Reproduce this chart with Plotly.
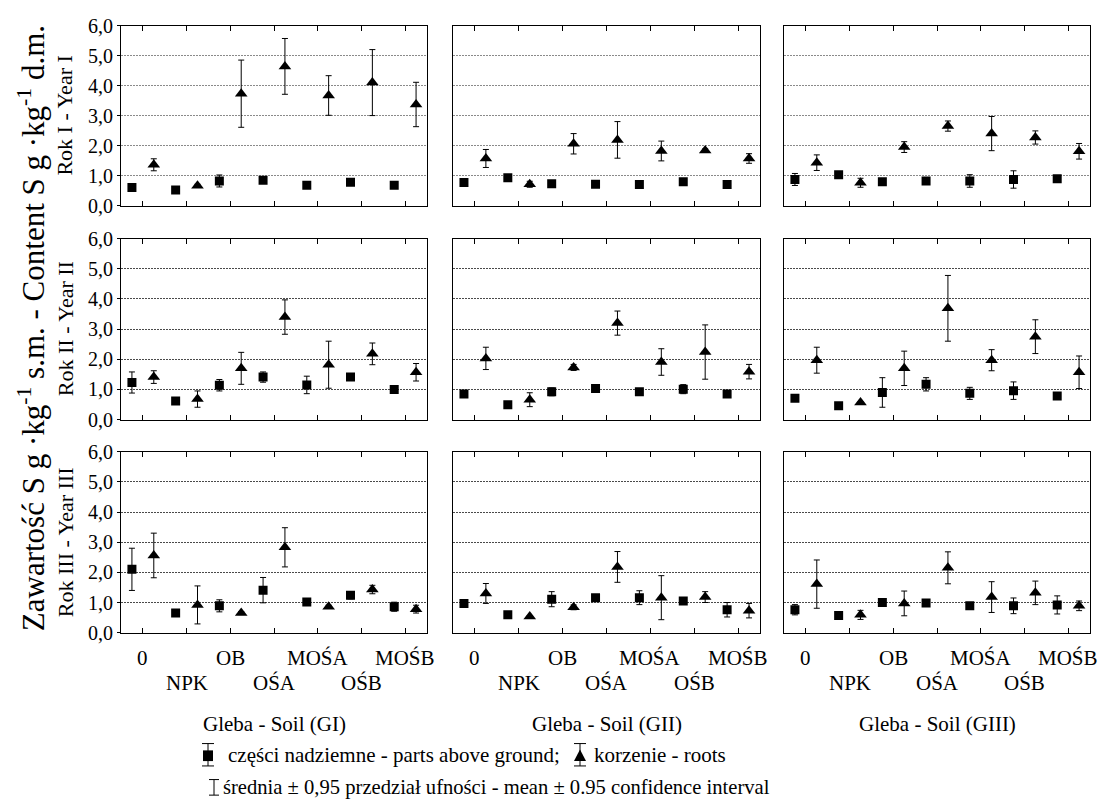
import plotly.graph_objects as go

W, H = 1103, 811

categories = ["0", "NPK", "OB", "OŚA", "MOŚA", "OŚB", "MOŚB"]
y_ticks = [0, 1, 2, 3, 4, 5, 6]
y_tick_text = ["0,0", "1,0", "2,0", "3,0", "4,0", "5,0", "6,0"]
soils = ["Gleba - Soil (GI)", "Gleba - Soil (GII)", "Gleba - Soil (GIII)"]
years = ["Rok I - Year I", "Rok II - Year II", "Rok III - Year III"]

# Year I  (each list: [GI, GII, GIII])
above_y1 = [[0.60, 0.52, 0.82, 0.84, 0.68, 0.78, 0.68],
            [0.77, 0.93, 0.73, 0.71, 0.70, 0.79, 0.70],
            [0.87, 1.03, 0.79, 0.82, 0.82, 0.87, 0.89]]
above_y1_ci = [[0.03, 0.03, 0.20, 0.03, 0.03, 0.03, 0.03],
               [0.03, 0.03, 0.03, 0.03, 0.03, 0.03, 0.03],
               [0.20, 0.03, 0.03, 0.03, 0.21, 0.29, 0.03]]
roots_y1 = [[1.36, 0.66, 3.73, 4.64, 3.67, 4.10, 3.37],
            [1.57, 0.71, 2.06, 2.19, 1.82, 1.84, 1.57],
            [1.43, 0.76, 1.95, 2.65, 2.40, 2.27, 1.81]]
roots_y1_ci = [[0.20, 0.05, 1.12, 0.93, 0.66, 1.10, 0.74],
               [0.30, 0.10, 0.34, 0.61, 0.33, 0.05, 0.16],
               [0.26, 0.15, 0.18, 0.17, 0.57, 0.22, 0.26]]

# Year II
above_y2 = [[1.23, 0.62, 1.14, 1.41, 1.15, 1.41, 1.00],
            [0.85, 0.49, 0.92, 1.03, 0.92, 1.01, 0.85],
            [0.71, 0.46, 0.90, 1.17, 0.87, 0.96, 0.78]]
above_y2_ci = [[0.35, 0.03, 0.19, 0.17, 0.29, 0.03, 0.03],
               [0.03, 0.03, 0.13, 0.03, 0.03, 0.15, 0.03],
               [0.03, 0.08, 0.49, 0.22, 0.20, 0.29, 0.03]]
roots_y2 = [[1.41, 0.68, 1.70, 3.40, 1.82, 2.18, 1.57],
            [2.03, 0.66, 1.73, 3.20, 1.91, 2.24, 1.59],
            [1.97, 0.57, 1.70, 3.69, 1.97, 2.75, 1.57]]
roots_y2_ci = [[0.21, 0.27, 0.53, 0.57, 0.78, 0.36, 0.29],
               [0.37, 0.23, 0.10, 0.40, 0.44, 0.90, 0.24],
               [0.43, 0.03, 0.57, 1.09, 0.35, 0.56, 0.54]]

# Year III
above_y3 = [[2.10, 0.65, 0.89, 1.41, 1.02, 1.24, 0.86],
            [0.97, 0.59, 1.11, 1.16, 1.16, 1.05, 0.76],
            [0.76, 0.57, 1.00, 0.98, 0.89, 0.89, 0.92]]
above_y3_ci = [[0.70, 0.03, 0.20, 0.42, 0.05, 0.12, 0.15],
               [0.08, 0.03, 0.25, 0.03, 0.23, 0.06, 0.24],
               [0.17, 0.03, 0.07, 0.07, 0.03, 0.26, 0.30]]
roots_y3 = [[2.56, 0.92, 0.65, 2.83, 0.86, 1.43, 0.78],
            [1.30, 0.54, 0.84, 2.18, 1.16, 1.18, 0.73],
            [1.61, 0.59, 0.97, 2.15, 1.18, 1.32, 0.89]]
roots_y3_ci = [[0.74, 0.63, 0.05, 0.65, 0.05, 0.14, 0.13],
               [0.33, 0.03, 0.08, 0.51, 0.73, 0.18, 0.24],
               [0.80, 0.15, 0.41, 0.53, 0.51, 0.39, 0.16]]

above = [above_y1, above_y2, above_y3]
above_ci = [above_y1_ci, above_y2_ci, above_y3_ci]
roots = [roots_y1, roots_y2, roots_y3]
roots_ci = [roots_y1_ci, roots_y2_ci, roots_y3_ci]

FONT = "Liberation Serif, Times New Roman, serif"

col_px = [(121, 427), (453, 760), (784, 1090)]
row_px = [(15, 200), (234, 420), (453, 639)]
grid_col = ["#8a8a8a", "#4a4a4a", "#4a4a4a"]

def px(x):
    return x / W

def py(y):
    return 1 - y / H

fig = go.Figure()
layout = dict(
    width=W, height=H, margin=dict(l=0, r=0, t=0, b=0),
    paper_bgcolor="white", plot_bgcolor="white", showlegend=False,
    font=dict(family=FONT, size=20, color="black"),
)

ann = []
idx = 0
xpos = list(range(len(categories)))
for r in range(3):
    for c in range(3):
        idx += 1
        sx = "" if idx == 1 else str(idx)
        xa, ya = "x" + sx, "y" + sx
        fig.add_trace(go.Scatter(
            x=[p - 0.25 for p in xpos], y=above[r][c], xaxis=xa, yaxis=ya,
            mode="markers",
            marker=dict(symbol="square", size=9, color="black"),
            error_y=dict(type="data", array=above_ci[r][c], color="black",
                         thickness=1, width=3),
        ))
        fig.add_trace(go.Scatter(
            x=[p + 0.25 for p in xpos], y=roots[r][c], xaxis=xa, yaxis=ya,
            mode="markers",
            marker=dict(symbol="triangle-up", size=11, color="black"),
            error_y=dict(type="data", array=roots_ci[r][c], color="black",
                         thickness=1, width=3),
        ))
        layout["xaxis" + sx] = dict(
            domain=[px(col_px[c][0]), px(col_px[c][1])],
            anchor=ya, range=[-0.5, 6.5],
            tickvals=xpos, showticklabels=False, ticks="inside", ticklen=5,
            tickcolor="black", mirror="ticks", showline=True,
            linecolor="black", linewidth=1, showgrid=False, zeroline=False,
            fixedrange=True,
        )
        layout["yaxis" + sx] = dict(
            domain=[py(row_px[r][1]), py(row_px[r][0])],
            anchor=xa, range=[0, 6],
            tickvals=y_ticks, ticktext=y_tick_text,
            showticklabels=(c == 0), ticks="outside" if c == 0 else "",
            ticklen=3, tickcolor="black",
            mirror=True, showline=True, linecolor="black", linewidth=1,
            showgrid=True, gridcolor=grid_col[r], griddash="2px,1px", gridwidth=1,
            zeroline=False, tickfont=dict(family=FONT, size=20),
            fixedrange=True,
        )
        # category labels under the bottom row, staggered on two lines
        if r == 2:
            for i, lab in enumerate(categories):
                ann.append(dict(x=i, xref=xa, y=py(665 if i % 2 == 0 else 691),
                                yref="paper", text=lab, showarrow=False,
                                font=dict(family=FONT, size=21),
                                xanchor="center", yanchor="middle"))

fig.update_layout(**layout)

# Soil labels
for c in range(3):
    ann.append(dict(x=px((col_px[c][0] + col_px[c][1]) / 2), y=py(733),
                    xref="paper", yref="paper", text=soils[c], showarrow=False,
                    font=dict(family=FONT, size=21), xanchor="center", yanchor="middle"))
# Year labels
for r in range(3):
    ann.append(dict(x=px(65), y=py((row_px[r][0] + row_px[r][1]) / 2),
                    xref="paper", yref="paper", text=years[r], showarrow=False,
                    textangle=-90, font=dict(family=FONT, size=22),
                    xanchor="center", yanchor="middle"))
# Main y title
ann.append(dict(x=px(31), y=py(326), xref="paper", yref="paper",
                text="Zawartość S g ·kg<sup>-1</sup> s.m. - Content S g ·kg<sup>-1</sup> d.m.",
                showarrow=False, textangle=-90, font=dict(family=FONT, size=31),
                xanchor="center", yanchor="middle"))
# Legend text
L1, L2 = 765, 798
ann.append(dict(x=px(226), y=py(L1), xref="paper", yref="paper",
                text="części nadziemne - parts above ground;", showarrow=False,
                font=dict(family=FONT, size=21), xanchor="left", yanchor="middle"))
ann.append(dict(x=px(592), y=py(L1), xref="paper", yref="paper",
                text="korzenie - roots", showarrow=False,
                font=dict(family=FONT, size=21), xanchor="left", yanchor="middle"))
ann.append(dict(x=px(221), y=py(L2), xref="paper", yref="paper",
                text="średnia ± 0,95 przedział ufności - mean ± 0.95 confidence interval",
                showarrow=False, font=dict(family=FONT, size=20.6),
                xanchor="left", yanchor="middle"))

shapes = []
def errbar_icon(cx, y0, y1, half=6):
    shapes.append(dict(type="line", xref="paper", yref="paper",
                       x0=px(cx), x1=px(cx), y0=py(y0), y1=py(y1),
                       line=dict(color="black", width=1)))
    for yy in (y0, y1):
        shapes.append(dict(type="line", xref="paper", yref="paper",
                           x0=px(cx - half), x1=px(cx + half), y0=py(yy), y1=py(yy),
                           line=dict(color="black", width=1)))

errbar_icon(208, L1 - 12, L1 + 11)
shapes.append(dict(type="rect", xref="paper", yref="paper",
                   x0=px(203), x1=px(213), y0=py(L1 - 5), y1=py(L1 + 6),
                   fillcolor="black", line=dict(color="black", width=0)))
errbar_icon(580, L1 - 12, L1 + 11)
shapes.append(dict(type="path", xref="paper", yref="paper",
                   path="M {} {} L {} {} L {} {} Z".format(px(574), py(L1 + 6), px(586), py(L1 + 6), px(580), py(L1 - 6)),
                   fillcolor="black", line=dict(color="black", width=0)))
errbar_icon(214, L2 - 8, L2 + 8, half=5)

fig.update_layout(annotations=ann, shapes=shapes)
fig.write_html("out.html")
